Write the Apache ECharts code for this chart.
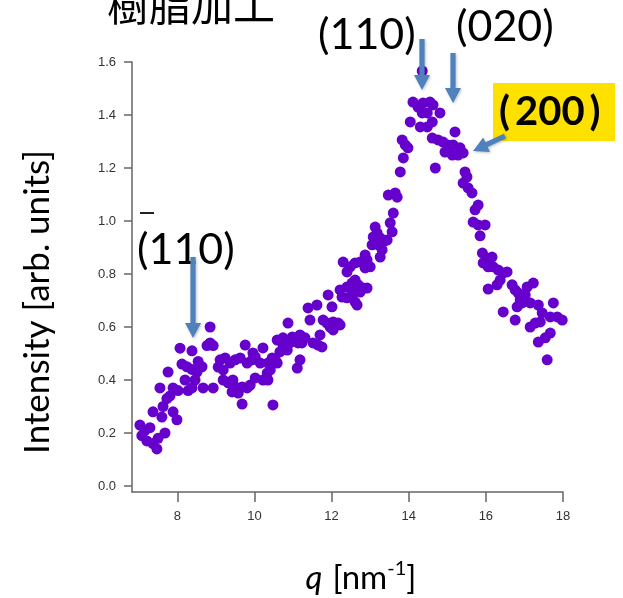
<!DOCTYPE html>
<html>
<head>
<meta charset="utf-8">
<script src="https://cdn.jsdelivr.net/npm/echarts@6/dist/echarts.min.js"></script>
<style>html,body{margin:0;padding:0;background:#fff}#c{width:623px;height:598px}</style>
</head>
<body>
<div id="c"></div>
<script>
// tick labels
const xTicks = [8, 10, 12, 14, 16, 18];
const yTicks = [0, 0.2, 0.4, 0.6, 0.8, 1.0, 1.2, 1.4, 1.6];

// [q (nm^-1), intensity (arb. units)]
const lowQ = [
  [7.03,0.23],[7.08,0.19],[7.16,0.21],[7.21,0.17],[7.29,0.22],[7.37,0.16],[7.47,0.14],[7.50,0.18],[7.68,0.20],
  [7.37,0.28],[7.60,0.26],[7.55,0.37],[7.63,0.30],[7.73,0.33],[7.81,0.34],[7.89,0.37],[7.89,0.28],[7.99,0.25],
  [8.02,0.36],[7.76,0.43],[8.07,0.52],[8.12,0.46],[8.25,0.45],[8.38,0.44],[8.38,0.51],[8.54,0.47],[8.64,0.45],
  [8.51,0.43],[8.46,0.40],[8.20,0.40],[8.28,0.36],[8.38,0.37],[8.67,0.37],[8.93,0.37],[8.85,0.60],[8.85,0.54],
  [8.93,0.53],[8.77,0.53]
];
const plateauQ = [
  [9.11,0.476],[9.24,0.483],[9.06,0.449],[9.19,0.438],[9.37,0.464],[9.50,0.476],[9.63,0.483],[9.76,0.532],
  [9.81,0.464],[9.94,0.476],[10.02,0.487],[10.15,0.464],[10.22,0.521],[10.35,0.464],[10.46,0.483],[10.54,0.476],
  [10.59,0.551],[10.74,0.532],[10.87,0.615],[10.85,0.513],[10.66,0.506],[9.19,0.400],[9.32,0.389],[9.44,0.400],
  [9.50,0.374],[9.42,0.355],[9.58,0.351],[9.68,0.374],[9.81,0.370],[9.89,0.381],[10.02,0.408],[10.22,0.400],
  [10.33,0.426],[9.68,0.309],[10.48,0.306],[9.96,0.502],[10.41,0.438],[10.59,0.464],[10.35,0.40]
];
const riseQ = [
  [10.74,0.559],[10.98,0.562],[11.18,0.570],[11.31,0.559],[10.92,0.540],[11.13,0.540],[11.23,0.540],[11.52,0.540],
  [11.65,0.532],[11.75,0.525],[11.70,0.570],[11.18,0.476],[11.11,0.445],[11.39,0.672],[11.62,0.683],[12.01,0.676],
  [11.44,0.626],[11.78,0.626],[11.88,0.615],[11.96,0.600],[12.04,0.619],[12.17,0.615],[12.22,0.608],[12.04,0.589],
  [11.91,0.721],[12.22,0.740],[12.40,0.751],[12.53,0.766],[12.27,0.713],[12.40,0.710],[12.56,0.728],[12.61,0.694],
  [12.74,0.732],[12.92,0.747],[12.66,0.683],[12.30,0.845],[12.61,0.842],[12.40,0.808],[12.48,0.827],[12.74,0.845],
  [12.92,0.853],[12.87,0.823],[13.00,0.827],[12.61,0.777],[12.69,0.759],[12.82,0.747],
  [12.87,0.872],[13.05,0.910],[13.08,0.940],[13.13,0.977],[13.18,0.955],[13.26,0.936],[13.34,0.921],[13.44,0.928],
  [13.21,0.910],[13.31,0.891],[13.26,0.864],[13.47,1.098],[13.65,1.106],[13.70,1.09],[13.60,1.030],[13.52,0.993],
  [13.57,0.959],[13.78,1.185],[13.83,1.306],[13.91,1.287],[13.98,1.276],[13.86,1.238],[14.04,1.374]
];
const peakQ = [
  [14.35,1.566],[14.11,1.449],[14.24,1.430],[14.37,1.445],[14.55,1.449],[14.63,1.438],[14.35,1.408],[14.48,1.408],
  [14.81,1.408],[14.30,1.355],[14.48,1.355],[14.61,1.374],[15.20,1.336],[14.61,1.313],[14.76,1.306],[14.89,1.298],
  [15.02,1.287],[15.15,1.287],[15.33,1.276],[15.28,1.249],[15.13,1.249],[14.94,1.260],[14.69,1.200],[15.41,1.257]
];
const fallQ = [
  [15.46,1.185],[15.41,1.143],[15.51,1.166],[15.54,1.125],[15.64,1.106],[15.80,1.060],[15.72,1.042],[15.67,0.996],
  [15.80,0.985],[15.98,0.985],[15.85,0.944],[15.91,0.879],[16.03,0.860],[16.16,0.864],[15.93,0.842],[16.06,0.827],
  [16.19,0.827],[16.32,0.815],[16.45,0.804],[16.55,0.808],[16.37,0.777],[16.06,0.743],[16.29,0.759],[16.68,0.759],
  [16.76,0.740],[16.84,0.728],[17.07,0.751],[17.23,0.766],[17.02,0.721],[16.94,0.691],[16.81,0.676],[17.15,0.691],
  [16.89,0.702],[16.45,0.657],[16.76,0.626],[17.36,0.683],[17.46,0.653],[17.75,0.691],[17.85,0.638],[17.98,0.626],
  [17.67,0.638],[17.15,0.600],[17.28,0.615],[17.41,0.619],[17.67,0.577],[17.54,0.559],[17.36,0.543],[17.59,0.476]
];

const allPoints = lowQ.concat(plateauQ, riseQ, peakQ, fallQ);

const ARROW = '#4f81bd';
function arrow(x1, y1, x2, y2) {
  const dx = x2 - x1, dy = y2 - y1, L = Math.hypot(dx, dy);
  const ux = dx / L, uy = dy / L, nx = -uy, ny = ux;
  const sw = 2.6, hw = 8, hl = 15;
  const bx = x2 - ux * hl, by = y2 - uy * hl;
  const pts = [
    [x1 + nx * sw, y1 + ny * sw], [bx + nx * sw, by + ny * sw], [bx + nx * hw, by + ny * hw],
    [x2, y2], [bx - nx * hw, by - ny * hw], [bx - nx * sw, by - ny * sw], [x1 - nx * sw, y1 - ny * sw]
  ];
  return { type: 'polygon', z: 100, shape: { points: pts },
    style: { fill: ARROW, shadowBlur: 3, shadowColor: 'rgba(0,0,0,0.25)', shadowOffsetX: 1, shadowOffsetY: 1 } };
}
const LFONT = 'Lato, "Open Sans", sans-serif';
function label(text, x, y, size, weight) {
  return { type: 'text', z: 100, x: x, y: y,
    style: { text: text, font: (weight || 'normal') + ' ' + size + 'px ' + LFONT, fill: '#000',
      textAlign: 'left', textVerticalAlign: 'middle' } };
}

const chart = echarts.init(document.getElementById('c'), null, { renderer: 'canvas' });
const axisCol = '#666';
chart.setOption({
  animation: false,
  backgroundColor: '#fff',
  grid: { left: 132, right: 60, top: 62, bottom: 106 },
  xAxis: {
    type: 'value', min: 6.825, max: 18,
    axisLine: { show: true, onZero: false, lineStyle: { color: axisCol, width: 1.5 } },
    axisTick: { show: true, length: 10, customValues: xTicks, lineStyle: { color: axisCol, width: 1.5 } },
    axisLabel: { customValues: xTicks, color: '#333', fontSize: 13, fontFamily: 'Liberation Sans, Arial', margin: 18 },
    splitLine: { show: false }
  },
  yAxis: {
    type: 'value', min: -0.0226, max: 1.6,
    axisLine: { show: true, onZero: false, lineStyle: { color: axisCol, width: 1.5 } },
    axisTick: { show: true, length: 8, customValues: yTicks, lineStyle: { color: axisCol, width: 1.5 } },
    axisLabel: { customValues: yTicks, color: '#333', fontSize: 13, fontFamily: 'Liberation Sans, Arial', margin: 16,
      formatter: v => v.toFixed(1) },
    splitLine: { show: false }
  },
  series: [{
    type: 'scatter', data: allPoints, symbolSize: 11,
    itemStyle: { color: '#6600cc', opacity: 1 }
  }],
  graphic: [
    { type: 'text', x: 107, y: 26, style: { text: '樹脂加工', font: '42px "Noto Sans CJK JP"', fill: '#000',
      textAlign: 'left', textVerticalAlign: 'bottom' } },
    { type: 'text', x: 38, y: 302, rotation: Math.PI / 2,
      style: { text: 'Intensity [arb. units]', font: '35px ' + LFONT, fill: '#000', textAlign: 'center', textVerticalAlign: 'middle' } },
    { type: 'text', x: 361, y: 577,
      style: { text: '{q|q}   {t|[nm}{s|-1}{t|]}', textAlign: 'center', textVerticalAlign: 'middle', fill: '#000',
        rich: {
          q: { font: 'italic 33px ' + LFONT, fill: '#000', verticalAlign: 'bottom', lineHeight: 36 },
          t: { font: '33px ' + LFONT, fill: '#000', verticalAlign: 'bottom', lineHeight: 36 },
          s: { font: '20px ' + LFONT, fill: '#000', verticalAlign: 'top', lineHeight: 36 }
        } } },
    label('(110)', 318, 35, 43),
    label('(020)', 456, 27, 43),
    label('(110)', 137, 250, 43),
    { type: 'line', z: 100, shape: { x1: 140, y1: 213, x2: 154, y2: 213 }, style: { stroke: '#222', lineWidth: 2 } },
    { type: 'rect', z: 99, shape: { x: 493, y: 83, width: 122, height: 58 }, style: { fill: '#ffe100' } },
    label('(\u2009200\u2009)', 499, 112, 40, 'bold'),
    arrow(422, 39, 422, 90),
    arrow(453, 53, 453, 103),
    arrow(505, 136, 473, 151),
    arrow(193, 257, 193, 338)
  ]
});
</script>
</body>
</html>
